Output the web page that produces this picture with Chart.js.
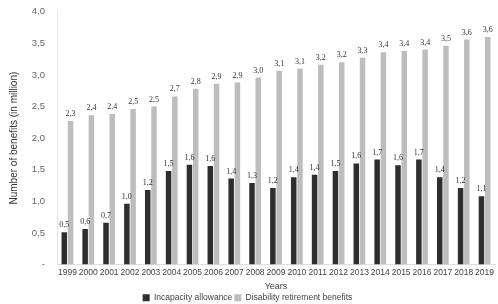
<!DOCTYPE html>
<html>
<head>
<meta charset="utf-8">
<script src="https://cdn.jsdelivr.net/npm/chart.js@4.4.0/dist/chart.umd.min.js"></script>
<style>
  html, body { margin: 0; padding: 0; background: #fff; overflow: hidden; }
  #wrap { width: 498px; height: 310px; margin-top: -6px; }
</style>
</head>
<body>
<div id="wrap"><canvas id="myChart"></canvas></div>
<script>
// years on the x axis
const years = ['1999','2000','2001','2002','2003','2004','2005','2006','2007','2008','2009',
  '2010','2011','2012','2013','2014','2015','2016','2017','2018','2019'];

// number of benefits, in million
const incapacity = [0.51, 0.56, 0.66, 0.96, 1.18, 1.48, 1.58, 1.56, 1.36, 1.29, 1.21,
  1.38, 1.42, 1.48, 1.60, 1.66, 1.57, 1.66, 1.38, 1.21, 1.08];
const disability = [2.27, 2.36, 2.38, 2.46, 2.50, 2.66, 2.78, 2.86, 2.88, 2.96, 3.06,
  3.10, 3.16, 3.20, 3.27, 3.36, 3.38, 3.40, 3.46, 3.56, 3.60];

// y ticks, the zero shows as a dash
const yTicks = [0, 0.5, 1, 1.5, 2, 2.5, 3, 3.5, 4];

const fontFam = "'Liberation Sans', Arial, sans-serif";

function comma(v) {
  return v.toFixed(1).replace('.', ',');
}

// small value labels over each bar
const barLabels = {
  id: 'barLabels',
  afterDatasetsDraw(chart) {
    const ctx = chart.ctx;
    ctx.save();
    ctx.font = "8px 'Liberation Serif', serif";
    ctx.fillStyle = '#333';
    ctx.textAlign = 'center';
    ctx.textBaseline = 'bottom';
    chart.data.datasets.forEach((ds, i) => {
      chart.getDatasetMeta(i).data.forEach((bar, j) => {
        ctx.fillText(comma(ds.data[j]), bar.x, bar.y - 3);
      });
    });
    ctx.restore();
  }
};

const myChart = document.getElementById('myChart');

new Chart(myChart, {
  type: 'bar',
  data: {
    labels: years,
    datasets: [
      { label: 'Incapacity allowance', data: incapacity, backgroundColor: '#2e2e2e' },
      { label: 'Disability retirement benefits', data: disability, backgroundColor: '#bdbdbd' }
    ]
  },
  options: {
    responsive: true,
    maintainAspectRatio: false,
    animation: false,
    layout: { padding: { top: 0, right: 3, left: 0, bottom: -8 } },
    datasets: { bar: { categoryPercentage: 0.6, barPercentage: 0.88 } },
    plugins: {
      legend: {
        position: 'bottom',
        labels: {
          font: { family: fontFam, size: 8.5 },
          color: '#444',
          boxWidth: 7,
          boxHeight: 7,
          padding: 2
        }
      },
      tooltip: { enabled: false }
    },
    scales: {
      x: {
        grid: { display: false, drawTicks: false },
        border: { color: '#ddd' },
        ticks: { font: { family: fontFam, size: 8.5 }, color: '#444', maxRotation: 0, autoSkip: false, padding: 3 },
        title: { display: true, text: 'Years', font: { family: fontFam, size: 9 }, color: '#444', padding: { top: 0, bottom: 0 } }
      },
      y: {
        min: 0,
        max: 4,
        afterBuildTicks: axis => { axis.ticks = yTicks.map(v => ({ value: v })); },
        afterFit: axis => { axis.width = 57; },
        grid: { display: false, drawTicks: false },
        border: { color: '#e4e4e4' },
        ticks: {
          font: { family: fontFam, size: 9.5 },
          color: '#666',
          padding: 12,
          callback: v => v === 0 ? '-' : comma(v)
        },
        title: { display: true, text: 'Number of benefits (in million)', font: { family: fontFam, size: 10 }, color: '#333', padding: { top: 8, bottom: 0 } }
      }
    }
  },
  plugins: [barLabels]
});
</script>
</body>
</html>
